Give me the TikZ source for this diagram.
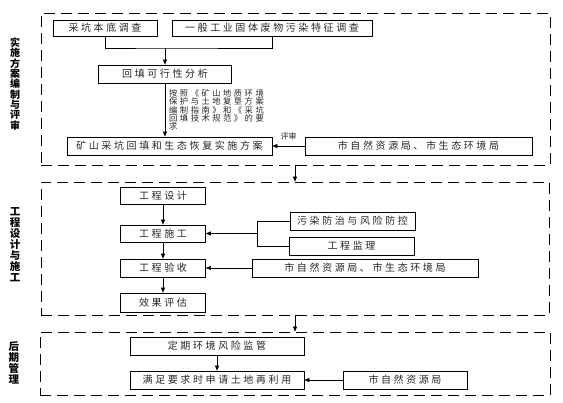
\documentclass[tikz,border=0pt]{standalone}
\usepackage{fontspec}
\newfontfamily\cjk[LetterSpace=26]{Noto Sans CJK SC}
\newfontfamily\cjknote[LetterSpace=30]{Noto Sans CJK SC}
\newfontfamily\cjkside{Noto Sans CJK SC}
\usetikzlibrary{arrows.meta}
\begin{document}
\begin{tikzpicture}[x=1pt,y=-1pt,
  box/.style={draw, line width=0.7pt, inner sep=0pt, minimum height=18pt, text=black!85, font=\cjk\fontsize{10}{12}\selectfont},
  frame/.style={draw, dash pattern=on 11pt off 6pt, line width=0.7pt, inner sep=0pt},
  arr/.style={line width=0.7pt, -{Triangle[length=5pt,width=4pt]}},
  ln/.style={line width=0.7pt},
  side/.style={align=center, inner sep=0pt},
  note/.style={font=\cjknote\fontsize{8.3}{8.4}\selectfont, align=left, inner sep=0pt, text=black!85}]
\useasboundingbox (0,0) rectangle (563,403);

% frames
\node[frame, minimum width=509pt, minimum height=152pt] (F1) at (295.5,89) {};
\node[frame, minimum width=508pt, minimum height=133pt] (F2) at (295,248.5) {};
\node[frame, minimum width=510pt, minimum height=63pt] (F3) at (295,363.5) {};
\coordinate (ax) at (295,0);
\draw[arr] (F1.south -| ax) -- (F2.north -| ax);
\draw[arr] (F2.south -| ax) -- (F3.north -| ax);

% side labels
\node[side, font=\cjkside\bfseries\fontsize{10}{10.3}\selectfont] (S1) at (15,84) {实\\施\\方\\案\\编\\制\\与\\评\\审};
\node[side, font=\cjkside\bfseries\fontsize{10.5}{11}\selectfont] (S2) at (15,245) {工\\程\\设\\计\\与\\施\\工};
\node[side, font=\cjkside\bfseries\fontsize{10.5}{11}\selectfont] (S3) at (14,363) {后\\期\\管\\理};

% frame 1
\node[box, minimum width=104pt, minimum height=16pt] (b1) at (105,28) {采坑本底调查};
\node[box, minimum width=200pt, minimum height=16pt] (b2) at (272,28) {一般工业固体废物污染特征调查};
\node[box, minimum width=133pt] (b3) at (165,74) {回填可行性分析};
\node[box, minimum width=205pt] (b4) at (169.5,146) {矿山采坑回填和生态恢复实施方案};
\node[box, minimum width=227pt] (b5) at (418.5,146) {市自然资源局、市生态环境局};
\coordinate (m) at (165,48);
\draw[ln] (b1.south) |- (m) -| (b2.south);
\draw[arr] (m) -- (b3.north);
\draw[arr] (b3.south) -- (b3.south |- b4.north);
\node[note, anchor=north west] (n1) at (169,89) {按照《矿山地质环境\\保护与土地复垦方案\\编制指南》和《采坑\\回填技术规范》的要\\求};
\draw[arr] (b5.west) -- (b4.east) node[midway, above=2pt, font=\cjkside\fontsize{8}{9}\selectfont, text=black!85] (r1) {评审};

% frame 2
\node[box, minimum width=85pt, minimum height=17pt] (c1) at (163,195.5) {工程设计};
\node[box, minimum width=85pt, minimum height=17pt] (c2) at (163,233.5) {工程施工};
\node[box, minimum width=85pt] (c3) at (163,268) {工程验收};
\node[box, minimum width=85pt, minimum height=19pt] (c4) at (163,302.5) {效果评估};
\draw[arr] (c1) -- (c2);
\draw[arr] (c2) -- (c3);
\draw[arr] (c3) -- (c4);
\node[box, minimum width=125pt] (d1) at (352.5,221) {污染防治与风险防控};
\node[box, minimum width=125pt] (d2) at (351.5,246) {工程监理};
\node[box, minimum width=226pt] (d3) at (365,268) {市自然资源局、市生态环境局};
\coordinate (j) at (257,233.5);
\draw[ln] (d1.west) -| (j |- d1.west) -- (j |- d2.west) -- (d2.west);
\draw[arr] (j) -- (c2.east);
\draw[arr] (d3.west) -- (c3.east);

% frame 3
\node[box, minimum width=174pt] (e1) at (217,346) {定期环境风险监管};
\node[box, minimum width=174pt] (e2) at (217,380) {满足要求时申请土地再利用};
\node[box, minimum width=124pt] (e3) at (405,380) {市自然资源局};
\draw[arr] (e1) -- (e2);
\draw[arr] (e3) -- (e2);
\end{tikzpicture}
\end{document}
